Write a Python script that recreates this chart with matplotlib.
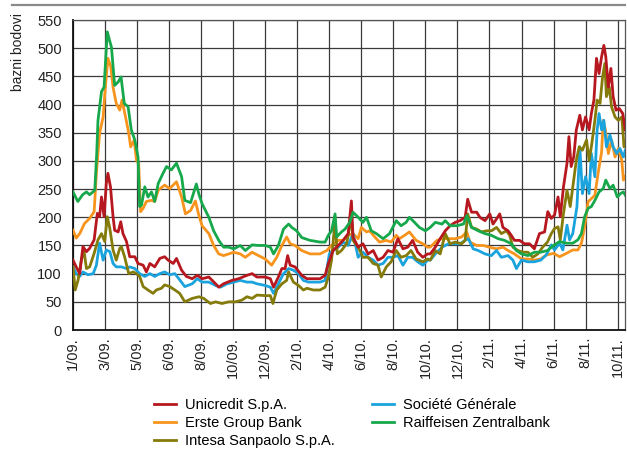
import matplotlib
matplotlib.use("Agg")
import matplotlib.pyplot as plt
from matplotlib.lines import Line2D

plt.rcParams['font.family'] = ['Liberation Sans', 'DejaVu Sans']

tick_labels = ["1/09.", "3/09.", "5/09.", "6/09.", "8/09.", "10/09.", "12/09.", "2/10.", "4/10.",
               "6/10.", "8/10.", "10/10.", "12/10.", "2/11.", "4/11.", "6/11.", "8/11.", "10/11."]
y_ticks = [0, 50, 100, 150, 200, 250, 300, 350, 400, 450, 500, 550]

# Raiffeisen Zentralbank (x in period index units, y in basis points)
rzb_x = [0, 0.15, 0.3, 0.42, 0.52, 0.68, 0.74, 0.78, 0.89, 0.97, 1.07, 1.14, 1.2, 1.3, 1.41, 1.5, 1.6, 1.72,
         1.82, 1.93, 2.03, 2.08, 2.14, 2.24, 2.34, 2.45, 2.55, 2.66, 2.81, 2.92, 3.07, 3.23, 3.39, 3.49,
         3.67, 3.85, 3.93, 4.03, 4.24, 4.39, 4.55, 4.7, 4.86, 5.02, 5.22, 5.38, 5.59, 5.79, 6.0, 6.16, 6.26,
         6.41, 6.57, 6.73, 6.83, 6.98, 7.14, 7.4, 7.71, 7.87, 7.97, 8.07, 8.18, 8.23, 8.38, 8.49, 8.64,
         8.74, 8.9, 9.05, 9.16, 9.31, 9.47, 9.68, 9.88, 10.09, 10.24, 10.4, 10.5, 10.66, 10.81, 11.0,
         11.15, 11.31, 11.52, 11.62, 11.77, 11.98, 12.19, 12.29, 12.44, 12.65, 12.86, 13.06, 13.27, 13.47,
         13.68, 13.84, 14.0, 14.2, 14.4, 14.6, 14.81, 15.0, 15.19, 15.4, 15.6, 15.76, 15.87, 15.97, 16.08,
         16.18, 16.29, 16.42, 16.55, 16.63, 16.76, 16.86, 16.99, 17.09, 17.18, 17.24]
rzb_y = [245, 228, 240, 245, 240, 248, 313, 372, 423, 431, 529, 514, 502, 434, 440, 449, 402, 396,
         355, 337, 307, 219, 222, 254, 236, 245, 228, 260, 278, 290, 284, 296, 272, 230,
         226, 259, 241, 224, 200, 176, 159, 147, 147, 144, 150, 141, 151, 150, 150, 147, 135,
         150, 179, 188, 182, 176, 164, 159, 156, 156, 168, 176, 206, 165, 174, 179, 191,
         209, 200, 191, 200, 176, 171, 162, 171, 194, 185, 191, 200, 191, 182, 176,
         182, 191, 188, 194, 185, 185, 188, 203, 182, 176, 171, 168, 162, 159,
         153, 141, 135, 132, 138, 138, 141, 150, 157, 154, 154, 160, 171, 201, 216,
         219, 230, 245, 251, 266, 251, 257, 236, 242, 245, 239]

# Erste Group Bank
erste_x = [0, 0.1, 0.21, 0.36, 0.52, 0.66, 0.73, 0.83, 0.94, 1.01, 1.09, 1.18, 1.25, 1.35, 1.46, 1.53,
           1.64, 1.74, 1.8, 1.91, 1.98, 2.05, 2.11, 2.19, 2.29, 2.45, 2.55, 2.66, 2.86, 3.02, 3.23, 3.39,
           3.51, 3.67, 3.82, 3.93, 4.03, 4.24, 4.39, 4.55, 4.7, 4.86, 5.02, 5.22, 5.38, 5.59, 5.79, 6.0,
           6.2, 6.36, 6.52, 6.67, 6.78, 6.93, 7.14, 7.4, 7.71, 7.92, 8.07, 8.28, 8.43, 8.59, 8.74, 8.9,
           9.0, 9.16, 9.26, 9.42, 9.57, 9.78, 9.93, 10.09, 10.19, 10.35, 10.5, 10.71, 10.92, 11.07,
           11.15, 11.36, 11.52, 11.72, 11.93, 12.13, 12.29, 12.39, 12.6, 12.8, 13.0, 13.22, 13.42, 13.58,
           13.78, 14.0, 14.2, 14.4, 14.6, 14.77, 15.0, 15.19, 15.4, 15.6, 15.76, 15.87, 15.97, 16.08,
           16.18, 16.29, 16.39, 16.5, 16.55, 16.62, 16.71, 16.81, 16.92, 17.02, 17.13, 17.18, 17.24]
erste_y = [177, 163, 171, 189, 198, 210, 278, 349, 378, 431, 482, 467, 431, 402, 390, 408,
           378, 349, 325, 337, 301, 296, 210, 216, 228, 230, 228, 248, 257, 251, 263, 236,
           206, 212, 229, 203, 185, 171, 150, 135, 132, 135, 138, 135, 129, 138, 132, 126,
           115, 129, 150, 165, 153, 150, 141, 135, 135, 141, 150, 159, 159, 168, 171, 162,
           182, 174, 176, 165, 156, 159, 156, 168, 162, 168, 174, 159, 153, 147,
           147, 159, 162, 162, 162, 165, 174, 156, 150, 150, 147, 144, 147, 141,
           135, 126, 126, 124, 126, 133, 136, 130, 136, 142, 142, 154, 183, 228,
           233, 239, 278, 316, 372, 355, 313, 337, 307, 322, 301, 266, 272]

# Unicredit S.p.A.
uni_x = [0, 0.1, 0.21, 0.31, 0.42, 0.52, 0.66, 0.76, 0.83, 0.89, 0.97, 1.04, 1.09, 1.17, 1.25, 1.3, 1.41,
         1.49, 1.56, 1.67, 1.77, 1.93, 2.03, 2.19, 2.29, 2.4, 2.55, 2.71, 2.86, 2.97, 3.13, 3.23, 3.39,
         3.54, 3.72, 3.88, 4.03, 4.24, 4.45, 4.55, 4.7, 4.96, 5.17, 5.43, 5.59, 5.74, 6.0, 6.16, 6.26,
         6.41, 6.52, 6.62, 6.7, 6.78, 6.93, 7.14, 7.3, 7.5, 7.71, 7.87, 7.97, 8.12, 8.28, 8.43, 8.59,
         8.69, 8.74, 8.9, 9.05, 9.21, 9.37, 9.52, 9.68, 9.83, 9.99, 10.14, 10.3, 10.45, 10.6, 10.76,
         10.92, 11.07, 11.15, 11.31, 11.46, 11.62, 11.77, 11.93, 12.08, 12.24, 12.32, 12.44, 12.6, 12.7,
         12.86, 13.01, 13.11, 13.22, 13.32, 13.42, 13.58, 13.68, 13.78, 13.94, 14.09, 14.25, 14.4,
         14.56, 14.72, 14.82, 14.93, 15.03, 15.14, 15.21, 15.31, 15.42, 15.48, 15.55, 15.63, 15.71,
         15.82, 15.9, 16.0, 16.11, 16.18, 16.26, 16.34, 16.42, 16.5, 16.57, 16.63, 16.71, 16.79, 16.86,
         16.95, 17.05, 17.16, 17.24]
uni_y = [124, 112, 100, 148, 139, 145, 160, 207, 201, 236, 201, 260, 278, 254, 201, 177, 174,
         192, 171, 157, 130, 130, 118, 115, 103, 118, 112, 127, 130, 124, 118, 127, 106,
         95, 91, 97, 91, 94, 82, 76, 82, 88, 91, 97, 100, 94, 94, 91, 76,
         94, 109, 109, 132, 115, 112, 97, 91, 91, 91, 97, 118, 141, 150, 159, 171,
         229, 165, 147, 153, 135, 141, 124, 129, 141, 138, 162, 144, 147, 159, 138,
         129, 135, 135, 147, 162, 176, 185, 191, 194, 200, 232, 209, 209, 200,
         194, 206, 188, 197, 206, 182, 176, 168, 159, 159, 153, 153, 144,
         171, 174, 210, 198, 204, 236, 201, 254, 296, 343, 290, 307, 355,
         381, 355, 378, 355, 384, 408, 482, 455, 485, 505, 485, 431, 464, 414,
         390, 393, 384, 355]

# Société Générale
sg_x = [0, 0.1, 0.21, 0.31, 0.47, 0.63, 0.73, 0.83, 0.94, 1.04, 1.15, 1.25, 1.35, 1.51, 1.67, 1.77, 1.93,
        2.08, 2.24, 2.4, 2.55, 2.71, 2.86, 3.02, 3.18, 3.33, 3.49, 3.72, 3.88, 4.03, 4.24, 4.45, 4.6,
        4.81, 5.02, 5.22, 5.43, 5.59, 5.74, 6.0, 6.16, 6.26, 6.41, 6.57, 6.73, 6.88, 7.04, 7.19, 7.35,
        7.5, 7.71, 7.87, 8.0, 8.12, 8.28, 8.43, 8.59, 8.74, 8.9, 9.05, 9.21, 9.37, 9.52, 9.68, 9.83,
        9.99, 10.14, 10.3, 10.45, 10.6, 10.76, 10.92, 11.07, 11.15, 11.31, 11.52, 11.72, 11.93, 12.08,
        12.24, 12.34, 12.49, 12.65, 12.86, 13.06, 13.22, 13.37, 13.58, 13.73, 13.84, 14.0, 14.2, 14.4,
        14.6, 14.77, 14.93, 15.03, 15.19, 15.29, 15.42, 15.5, 15.6, 15.73, 15.82, 15.9, 16.0, 16.11,
        16.18, 16.29, 16.36, 16.42, 16.5, 16.57, 16.65, 16.76, 16.86, 16.97, 17.07, 17.18, 17.24]
sg_y = [112, 100, 95, 103, 98, 100, 115, 154, 124, 142, 139, 118, 112, 112, 109, 112, 109,
        100, 95, 100, 95, 100, 103, 98, 100, 89, 77, 82, 91, 85, 85, 79, 76,
        82, 85, 88, 85, 85, 82, 79, 76, 65, 82, 100, 109, 106, 100, 88, 85,
        85, 85, 88, 135, 141, 147, 156, 150, 171, 129, 138, 129, 124, 115, 118, 129,
        129, 132, 115, 129, 129, 121, 115, 124, 124, 135, 147, 153, 153, 153,
        159, 162, 144, 141, 135, 132, 141, 129, 132, 124, 109, 124, 121, 121,
        124, 133, 151, 142, 154, 142, 186, 160, 171, 219, 325, 242, 272, 242,
        313, 272, 355, 384, 355, 372, 325, 346, 325, 313, 322, 307, 319]

# Intesa Sanpaolo S.p.A.
isp_x = [0, 0.07, 0.16, 0.26, 0.34, 0.42, 0.52, 0.66, 0.78, 0.89, 0.99, 1.07, 1.15, 1.25, 1.35, 1.46, 1.51,
         1.61, 1.74, 1.88, 1.98, 2.08, 2.19, 2.34, 2.5, 2.6, 2.76, 2.86, 3.02, 3.18, 3.33, 3.49, 3.72,
         3.93, 4.08, 4.29, 4.45, 4.65, 4.86, 5.07, 5.27, 5.43, 5.59, 5.74, 6.0, 6.16, 6.24, 6.36, 6.52,
         6.67, 6.73, 6.88, 7.04, 7.19, 7.3, 7.5, 7.71, 7.87, 7.97, 8.07, 8.18, 8.25, 8.38, 8.54, 8.69,
         8.74, 8.9, 9.05, 9.21, 9.37, 9.52, 9.62, 9.78, 9.93, 10.09, 10.24, 10.4, 10.55, 10.71, 10.92,
         11.07, 11.15, 11.31, 11.46, 11.62, 11.77, 11.93, 12.13, 12.24, 12.32, 12.44, 12.6, 12.75, 12.91,
         13.06, 13.22, 13.37, 13.53, 13.63, 13.73, 13.89, 14.04, 14.2, 14.35, 14.51, 14.66, 14.81,
         14.93, 15.03, 15.14, 15.21, 15.31, 15.42, 15.52, 15.6, 15.71, 15.8, 15.9, 16.03, 16.11, 16.18,
         16.29, 16.36, 16.45, 16.53, 16.6, 16.65, 16.74, 16.81, 16.92, 17.02, 17.13, 17.2, 17.24]
isp_y = [112, 71, 89, 124, 142, 109, 112, 136, 160, 171, 157, 201, 180, 142, 124, 145, 148,
         130, 100, 103, 100, 95, 77, 71, 65, 71, 74, 80, 77, 71, 65, 50, 56,
         59, 56, 47, 50, 47, 50, 50, 53, 59, 56, 62, 61, 61, 47, 71, 82,
         88, 103, 85, 79, 71, 74, 71, 71, 76, 94, 124, 195, 135, 141, 153, 200,
         159, 147, 129, 129, 118, 115, 94, 112, 121, 141, 129, 132, 141, 126, 121,
         126, 124, 141, 135, 171, 153, 156, 153, 159, 206, 182, 179, 174, 176,
         176, 182, 171, 176, 168, 147, 141, 138, 138, 129, 135, 147, 156,
         171, 180, 183, 160, 207, 248, 219, 254, 301, 325, 319, 337, 301, 325,
         372, 408, 402, 449, 473, 414, 431, 396, 378, 372, 378, 325, 331]

colors = {
    "uni": "#b7181f",
    "erste": "#f7941d",
    "isp": "#857b0a",
    "sg": "#1ba3dd",
    "rzb": "#16a84b",
}

fig = plt.figure(figsize=(6.27, 4.5), dpi=100)
ax = fig.add_axes([73 / 627, 120 / 450, 552 / 627, 310 / 450])

lw = 2.0
l_erste, = ax.plot(erste_x, erste_y, color=colors["erste"], lw=lw, label="Erste Group Bank", zorder=3)
l_sg, = ax.plot(sg_x, sg_y, color=colors["sg"], lw=lw, label="Société Générale", zorder=3)
l_isp, = ax.plot(isp_x, isp_y, color=colors["isp"], lw=lw, label="Intesa Sanpaolo S.p.A.", zorder=4)
l_uni, = ax.plot(uni_x, uni_y, color=colors["uni"], lw=lw, label="Unicredit S.p.A.", zorder=4)
l_rzb, = ax.plot(rzb_x, rzb_y, color=colors["rzb"], lw=lw, label="Raiffeisen Zentralbank", zorder=5)

ax.set_xlim(0, 17.23)
ax.set_ylim(0, 550)
ax.set_xticks(range(len(tick_labels)))
ax.set_xticklabels(tick_labels, rotation=90, fontsize=10.5, color="#222222")
ax.set_yticks(y_ticks)
ax.set_yticklabels([str(v) for v in y_ticks], fontsize=10.5, color="#222222")
ax.tick_params(axis="x", length=0, pad=5)
ax.tick_params(axis="y", length=0, pad=8)
ax.grid(True, color="#3a3a3a", lw=0.9, zorder=1)
ax.set_axisbelow(True)
for s in ["top", "right"]:
    ax.spines[s].set_color("#555555")
    ax.spines[s].set_linewidth(0.9)
for s in ["left", "bottom"]:
    ax.spines[s].set_color("#111111")
    ax.spines[s].set_linewidth(1.3)

fig.text(18 / 627, 1 - 52 / 450, "bazni bodovi", rotation=90, ha="center", va="center",
         fontsize=10, color="#222222")

fig.add_artist(Line2D([12 / 627, 625 / 627], [1 - 5 / 450, 1 - 5 / 450], color="#8a8a8a", lw=1.6))

fig.legend(handles=[l_uni, l_erste, l_isp, l_sg, l_rzb], ncol=2, loc="center",
           bbox_to_anchor=(352 / 627, 1 - 423 / 450), frameon=False, fontsize=10.5,
           handlelength=1.5, handletextpad=0.6, columnspacing=2.6, labelspacing=0.3)

fig.savefig("out.png", dpi=100)
